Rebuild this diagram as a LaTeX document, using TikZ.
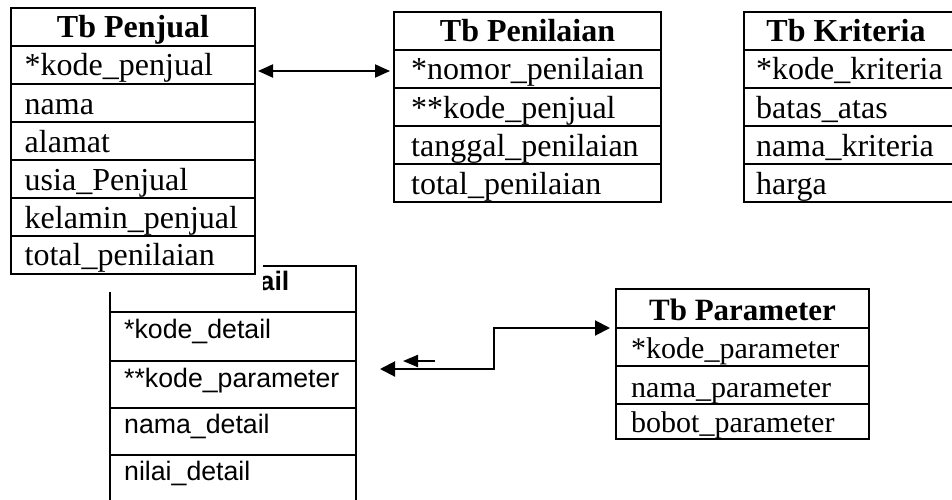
\documentclass[tikz,border=0pt]{standalone}
\usepackage{fontspec}
\setmainfont{Liberation Serif}
\newfontfamily\arialf{Liberation Sans}
\usetikzlibrary{arrows.meta}
\tikzset{etip/.tip={Triangle[length=15pt,width=13pt]},
         btip/.tip={Triangle[length=15pt,width=15pt]},
         stip/.tip={Triangle[length=15pt,width=12pt]}}
\begin{document}
\begin{tikzpicture}[x=1pt,y=-1pt,
  box/.style={draw, line width=1.8pt, inner sep=0pt, outer sep=0pt, anchor=north west},
  hd/.style={font=\fontsize{32}{38}\selectfont\bfseries, inner sep=0pt, anchor=base},
  fld/.style={font=\fontsize{32}{38}\selectfont, inner sep=0pt, anchor=base west},
  hdp/.style={font=\fontsize{31}{36}\selectfont\bfseries, inner sep=0pt, anchor=base},
  fldp/.style={font=\fontsize{30}{36}\selectfont, inner sep=0pt, anchor=base west},
  hda/.style={font=\arialf\fontsize{26.7}{32}\selectfont\bfseries, inner sep=0pt, anchor=base},
  flda/.style={font=\arialf\fontsize{26.7}{32}\selectfont, inner sep=0pt, anchor=base west},
  con/.style={line width=2pt}]
\clip (0,0) rectangle (952,500);
\fill[white] (0,0) rectangle (952,500);

% ---- Tb Detail (partly hidden)
\node[box, minimum width=246pt, minimum height=46pt] (dt0) at (110,266) {};
\node[box, minimum width=246pt, minimum height=49pt] (dt1) at (110,312) {};
\node[box, minimum width=246pt, minimum height=47pt] (dt2) at (110,361) {};
\node[box, minimum width=246pt, minimum height=47pt] (dt3) at (110,408) {};
\node[box, minimum width=246pt, minimum height=70pt] (dt4) at (110,455) {};
\node[hda] (dth) at (233,290) {Tb Detail};
\node[flda] (dtt1) at (124,338) {*kode\_detail};
\node[flda] (dtt2) at (124,387) {**kode\_parameter};
\node[flda] (dtt3) at (124,433) {nama\_detail};
\node[flda] (dtt4) at (124,480) {nilai\_detail};
\fill[white] (0,0) rectangle (263,292);

% ---- Tb Penjual
\node[box, minimum width=244pt, minimum height=38pt] (pj0) at (11,8) {};
\node[box, minimum width=244pt, minimum height=38pt] (pj1) at (11,46) {};
\node[box, minimum width=244pt, minimum height=38pt] (pj2) at (11,84) {};
\node[box, minimum width=244pt, minimum height=38pt] (pj3) at (11,122) {};
\node[box, minimum width=244pt, minimum height=38pt] (pj4) at (11,160) {};
\node[box, minimum width=244pt, minimum height=38pt] (pj5) at (11,198) {};
\node[box, minimum width=244pt, minimum height=38pt] (pj6) at (11,236) {};
\node[hd] (pjh) at (133,38) {Tb Penjual};
\node[fld] (pjt1) at (24.5,76) {*kode\_penjual};
\node[fld] (pjt2) at (24.5,114) {nama};
\node[fld] (pjt3) at (24.5,152) {alamat};
\node[fld] (pjt4) at (24.5,190) {usia\_Penjual};
\node[fld] (pjt5) at (24.5,228) {kelamin\_penjual};
\node[fld] (pjt6) at (24.5,265) {total\_penilaian};

% ---- Tb Penilaian
\node[box, minimum width=267pt, minimum height=38pt] (pn0) at (394,12) {};
\node[box, minimum width=267pt, minimum height=38pt] (pn1) at (394,50) {};
\node[box, minimum width=267pt, minimum height=38pt] (pn2) at (394,88) {};
\node[box, minimum width=267pt, minimum height=38pt] (pn3) at (394,126) {};
\node[box, minimum width=267pt, minimum height=38pt] (pn4) at (394,164) {};
\node[hd] (pnh) at (527.5,42) {Tb Penilaian};
\node[fld] (pnt1) at (411,80) {*nomor\_penilaian};
\node[fld] (pnt2) at (411,118) {**kode\_penjual};
\node[fld] (pnt3) at (411,156) {tanggal\_penilaian};
\node[fld] (pnt4) at (411,194) {total\_penilaian};

% ---- Tb Kriteria (runs past the right edge)
\node[box, minimum width=230pt, minimum height=38pt] (kr0) at (744,12) {};
\node[box, minimum width=230pt, minimum height=38pt] (kr1) at (744,50) {};
\node[box, minimum width=230pt, minimum height=38pt] (kr2) at (744,88) {};
\node[box, minimum width=230pt, minimum height=38pt] (kr3) at (744,126) {};
\node[box, minimum width=230pt, minimum height=38pt] (kr4) at (744,164) {};
\node[hd] (krh) at (846,42) {Tb Kriteria};
\node[fld] (krt1) at (756,80) {*kode\_kriteria};
\node[fld] (krt2) at (756,118) {batas\_atas};
\node[fld] (krt3) at (756,156) {nama\_kriteria};
\node[fld] (krt4) at (756,194) {harga};

% ---- Tb Parameter
\node[box, minimum width=253pt, minimum height=39pt] (pr0) at (616,289) {};
\node[box, minimum width=253pt, minimum height=38pt] (pr1) at (616,328) {};
\node[box, minimum width=253pt, minimum height=38pt] (pr2) at (616,366) {};
\node[box, minimum width=253pt, minimum height=35pt] (pr3) at (616,404) {};
\node[hdp] (prh) at (742.5,320) {Tb Parameter};
\node[fldp] (prt1) at (631,358) {*kode\_parameter};
\node[fldp] (prt2) at (631,397) {nama\_parameter};
\node[fldp] (prt3) at (631,432) {bobot\_parameter};

% ---- connectors
\coordinate (pjA) at (258,71);
\coordinate (pnA) at (390,71);
\draw[con, etip-etip] (pjA) -- (pnA);

\coordinate (dtA) at (380,369);
\coordinate (bend) at (494,369);
\coordinate (prA) at (610,328);
\draw[con, btip-btip] (dtA) -- (bend) |- (prA);

\coordinate (smA) at (435,361);
\coordinate (smB) at (403,361);
\draw[con, -stip] (smA) -- (smB);
\end{tikzpicture}
\end{document}
